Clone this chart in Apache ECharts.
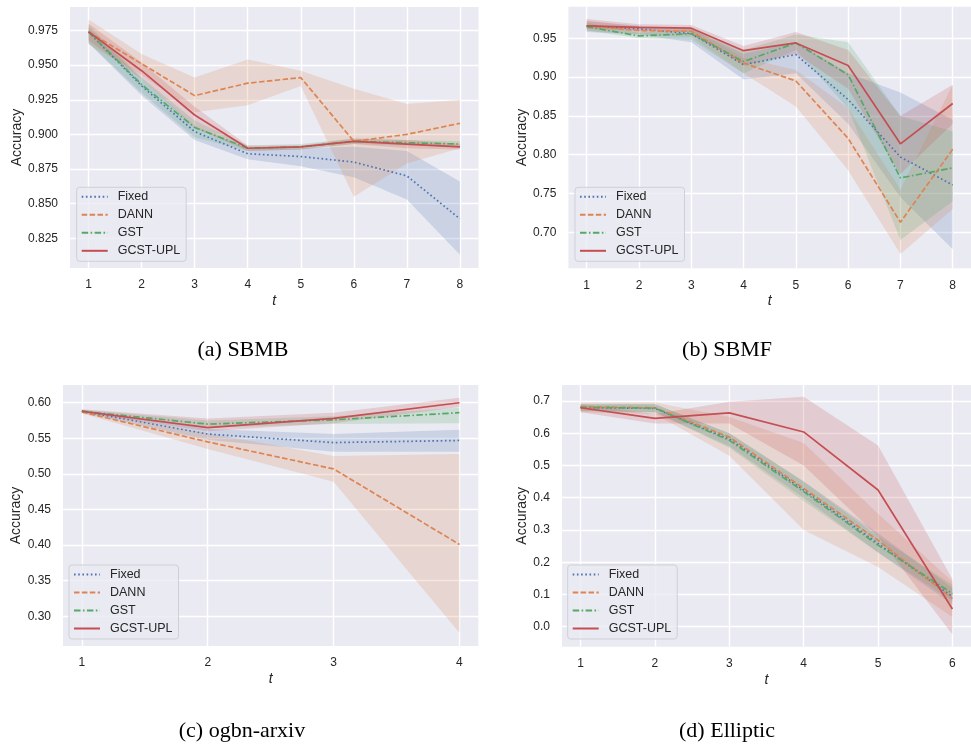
<!DOCTYPE html>
<html>
<head>
<meta charset="utf-8">
<script src="https://cdn.jsdelivr.net/npm/echarts@6/dist/echarts.min.js"></script>
<style>
  html, body { margin: 0; padding: 0; background: #fff; }
  #main { width: 971px; height: 745px; }
</style>
</head>
<body>
<div id="main"></div>
<script>
// ---- data ----
var methods = ['Fixed', 'DANN', 'GST', 'GCST-UPL'];

// (a) SBMB
var sbmbT = [1, 2, 3, 4, 5, 6, 7, 8];
var sbmbFixed   = [0.974, 0.935, 0.902, 0.886, 0.884, 0.880, 0.870, 0.839];
var sbmbFixedLo = [0.966, 0.928, 0.896, 0.882, 0.877, 0.869, 0.853, 0.813];
var sbmbFixedHi = [0.977, 0.940, 0.906, 0.890, 0.890, 0.891, 0.888, 0.866];
var sbmbDann    = [0.974, 0.951, 0.928, 0.937, 0.941, 0.895, 0.900, 0.908];
var sbmbDannLo  = [0.965, 0.943, 0.916, 0.921, 0.935, 0.855, 0.879, 0.890];
var sbmbDannHi  = [0.983, 0.958, 0.941, 0.954, 0.946, 0.933, 0.922, 0.925];
var sbmbGst     = [0.974, 0.936, 0.905, 0.890, 0.891, 0.895, 0.894, 0.893];
var sbmbGstLo   = [0.966, 0.930, 0.898, 0.888, 0.889, 0.893, 0.892, 0.891];
var sbmbGstHi   = [0.979, 0.941, 0.910, 0.892, 0.893, 0.897, 0.896, 0.895];
var sbmbGcst    = [0.974, 0.946, 0.914, 0.890, 0.891, 0.895, 0.893, 0.891];
var sbmbGcstLo  = [0.968, 0.940, 0.905, 0.888, 0.889, 0.893, 0.890, 0.889];
var sbmbGcstHi  = [0.980, 0.952, 0.920, 0.892, 0.892, 0.897, 0.896, 0.893];
var sbmbYTicks  = [0.825, 0.850, 0.875, 0.900, 0.925, 0.950, 0.975];

// (b) SBMF
var sbmfT = [1, 2, 3, 4, 5, 6, 7, 8];
var sbmfFixed   = [0.966, 0.962, 0.956, 0.916, 0.929, 0.871, 0.797, 0.761];
var sbmfFixedLo = [0.958, 0.955, 0.945, 0.897, 0.905, 0.840, 0.745, 0.678];
var sbmfFixedHi = [0.972, 0.966, 0.962, 0.930, 0.945, 0.905, 0.880, 0.845];
var sbmfDann    = [0.966, 0.960, 0.959, 0.918, 0.895, 0.821, 0.713, 0.807];
var sbmfDannLo  = [0.960, 0.955, 0.952, 0.905, 0.862, 0.780, 0.672, 0.730];
var sbmfDannHi  = [0.973, 0.965, 0.963, 0.925, 0.909, 0.860, 0.755, 0.890];
var sbmfGst     = [0.965, 0.953, 0.956, 0.920, 0.944, 0.903, 0.770, 0.783];
var sbmfGstLo   = [0.960, 0.950, 0.948, 0.905, 0.935, 0.860, 0.690, 0.740];
var sbmfGstHi   = [0.970, 0.957, 0.962, 0.935, 0.955, 0.945, 0.850, 0.830];
var sbmfGcst    = [0.966, 0.964, 0.963, 0.934, 0.944, 0.915, 0.814, 0.866];
var sbmfGcstLo  = [0.962, 0.960, 0.958, 0.915, 0.930, 0.885, 0.775, 0.840];
var sbmfGcstHi  = [0.975, 0.968, 0.967, 0.940, 0.958, 0.935, 0.850, 0.890];
var sbmfYTicks  = [0.70, 0.75, 0.80, 0.85, 0.90, 0.95];

// (c) ogbn-arxiv
var arxivT = [1, 2, 3, 4];
var arxivFixed   = [0.588, 0.556, 0.544, 0.547];
var arxivFixedLo = [0.586, 0.548, 0.531, 0.531];
var arxivFixedHi = [0.590, 0.563, 0.556, 0.562];
var arxivDann    = [0.587, 0.545, 0.507, 0.401];
var arxivDannLo  = [0.585, 0.535, 0.489, 0.277];
var arxivDannHi  = [0.590, 0.557, 0.525, 0.528];
var arxivGst     = [0.588, 0.570, 0.576, 0.586];
var arxivGstLo   = [0.586, 0.565, 0.570, 0.571];
var arxivGstHi   = [0.590, 0.575, 0.581, 0.593];
var arxivGcst    = [0.588, 0.565, 0.578, 0.600];
var arxivGcstLo  = [0.586, 0.560, 0.571, 0.594];
var arxivGcstHi  = [0.591, 0.578, 0.586, 0.607];
var arxivYTicks  = [0.30, 0.35, 0.40, 0.45, 0.50, 0.55, 0.60];

// (d) Elliptic
var ellT = [1, 2, 3, 4, 5, 6];
var ellFixed   = [0.680, 0.677, 0.582, 0.424, 0.258, 0.093];
var ellFixedLo = [0.670, 0.665, 0.560, 0.400, 0.230, 0.070];
var ellFixedHi = [0.690, 0.690, 0.600, 0.450, 0.290, 0.120];
var ellDann    = [0.682, 0.679, 0.588, 0.429, 0.268, 0.087];
var ellDannLo  = [0.665, 0.660, 0.530, 0.300, 0.185, 0.030];
var ellDannHi  = [0.695, 0.695, 0.650, 0.570, 0.350, 0.140];
var ellGst     = [0.680, 0.678, 0.578, 0.419, 0.253, 0.103];
var ellGstLo   = [0.670, 0.665, 0.555, 0.390, 0.230, 0.080];
var ellGstHi   = [0.690, 0.690, 0.600, 0.450, 0.280, 0.130];
var ellGcst    = [0.679, 0.646, 0.663, 0.604, 0.424, 0.055];
var ellGcstLo  = [0.665, 0.630, 0.630, 0.500, 0.280, -0.024];
var ellGcstHi  = [0.690, 0.660, 0.698, 0.713, 0.562, 0.147];
var ellYTicks  = [0.0, 0.1, 0.2, 0.3, 0.4, 0.5, 0.6, 0.7];

// ---- styling ----
var colors = ['#4C72B0', '#DD8452', '#55A868', '#C44E52'];
var dashes = [[1.6, 2.6], [5.5, 2.4], [6.5, 2.4, 1.6, 2.4], 'solid'];
var sansFont = 'Liberation Sans, Arial, sans-serif';

var panels = [
  { t: sbmbT, lines: [sbmbFixed, sbmbDann, sbmbGst, sbmbGcst],
    lo: [sbmbFixedLo, sbmbDannLo, sbmbGstLo, sbmbGcstLo],
    hi: [sbmbFixedHi, sbmbDannHi, sbmbGstHi, sbmbGcstHi],
    yTicks: sbmbYTicks, dec: 3, caption: '(a) SBMB',
    grid: { left: 70, top: 7, width: 408.5, height: 261 },
    xMin: 0.65, xMax: 8.35, yMin: 0.8035, yMax: 0.992, nameGap: 46,
    legend: [76.7, 187.3], capPos: [243, 350] },
  { t: sbmfT, lines: [sbmfFixed, sbmfDann, sbmfGst, sbmfGcst],
    lo: [sbmfFixedLo, sbmfDannLo, sbmfGstLo, sbmfGcstLo],
    hi: [sbmfFixedHi, sbmfDannHi, sbmfGstHi, sbmfGcstHi],
    yTicks: sbmfYTicks, dec: 2, caption: '(b) SBMF',
    grid: { left: 568.4, top: 6.7, width: 415.8, height: 261.6 },
    xMin: 0.65, xMax: 8.35, yMin: 0.6536, yMax: 0.9907, nameGap: 39,
    legend: [575, 187.3], capPos: [727, 350] },
  { t: arxivT, lines: [arxivFixed, arxivDann, arxivGst, arxivGcst],
    lo: [arxivFixedLo, arxivDannLo, arxivGstLo, arxivGcstLo],
    hi: [arxivFixedHi, arxivDannHi, arxivGstHi, arxivGcstHi],
    yTicks: arxivYTicks, dec: 2, caption: '(c) ogbn-arxiv',
    grid: { left: 63, top: 385, width: 415.3, height: 261 },
    xMin: 0.85, xMax: 4.15, yMin: 0.2583, yMax: 0.6249, nameGap: 40,
    legend: [69, 565], capPos: [242, 731] },
  { t: ellT, lines: [ellFixed, ellDann, ellGst, ellGcst],
    lo: [ellFixedLo, ellDannLo, ellGstLo, ellGcstLo],
    hi: [ellFixedHi, ellDannHi, ellGstHi, ellGcstHi],
    yTicks: ellYTicks, dec: 1, caption: '(d) Elliptic',
    grid: { left: 562, top: 385, width: 423, height: 261.7 },
    xMin: 0.75, xMax: 6.25, yMin: -0.062, yMax: 0.7496, nameGap: 33,
    legend: [567.7, 565], capPos: [727, 731] }
];

function rgba(hex, a) {
  var n = parseInt(hex.slice(1), 16);
  return 'rgba(' + (n >> 16) + ',' + ((n >> 8) & 255) + ',' + (n & 255) + ',' + a + ')';
}

function bandSeries(idx, xs, lo, hi, color) {
  return {
    type: 'custom',
    xAxisIndex: idx,
    yAxisIndex: idx,
    silent: true,
    clip: true,
    z: 1,
    data: xs.map(function (x, i) { return [x, lo[i], hi[i]]; }),
    encode: { x: 0, y: [1, 2] },
    renderItem: function (params, api) {
      if (params.dataIndex !== 0) return;
      var pts = [];
      for (var i = 0; i < xs.length; i++) pts.push(api.coord([xs[i], hi[i]]));
      for (var j = xs.length - 1; j >= 0; j--) pts.push(api.coord([xs[j], lo[j]]));
      return { type: 'polygon', shape: { points: pts }, style: { fill: rgba(color, 0.2) } };
    }
  };
}

var grids = [], xAxes = [], yAxes = [], series = [], legends = [], graphics = [];

panels.forEach(function (p, k) {
  grids.push({
    left: p.grid.left, top: p.grid.top, width: p.grid.width, height: p.grid.height,
    show: true, backgroundColor: '#EAEAF2', borderWidth: 0
  });
  xAxes.push({
    type: 'value', gridIndex: k, min: p.xMin, max: p.xMax,
    name: 't', nameLocation: 'middle', nameGap: 26,
    nameTextStyle: { fontFamily: sansFont, fontStyle: 'italic', fontSize: 14, color: '#262626' },
    axisLine: { show: false },
    axisTick: { show: false, customValues: p.t },
    axisLabel: { customValues: p.t, fontFamily: sansFont, fontSize: 12, color: '#262626', margin: 11 },
    splitLine: { show: true, lineStyle: { color: '#ffffff', width: 1.4 } }
  });
  yAxes.push({
    type: 'value', gridIndex: k, min: p.yMin, max: p.yMax,
    name: 'Accuracy', nameLocation: 'middle', nameGap: p.nameGap,
    nameTextStyle: { fontFamily: sansFont, fontSize: 14, color: '#262626' },
    axisLine: { show: false },
    axisTick: { show: false, customValues: p.yTicks },
    axisLabel: {
      customValues: p.yTicks, fontFamily: sansFont, fontSize: 12, color: '#262626', margin: 12,
      formatter: (function (d) { return function (v) { return v.toFixed(d); }; })(p.dec)
    },
    splitLine: { show: true, lineStyle: { color: '#ffffff', width: 1.4 } }
  });
  for (var m = 0; m < 4; m++) {
    series.push(bandSeries(k, p.t, p.lo[m], p.hi[m], colors[m]));
  }
  for (var m2 = 0; m2 < 4; m2++) {
    series.push({
      name: methods[m2], type: 'line', xAxisIndex: k, yAxisIndex: k,
      symbol: 'none', z: 3, silent: true,
      data: p.t.map(function (x, i) { return [x, p.lines[m2][i]]; }),
      lineStyle: { color: colors[m2], width: 1.7, type: dashes[m2] },
      itemStyle: { color: colors[m2] }
    });
  }
  legends.push({
    data: methods, orient: 'vertical', left: p.legend[0], top: p.legend[1],
    itemWidth: 26, itemHeight: 12, itemGap: 5, padding: [3, 6, 4, 4],
    backgroundColor: 'rgba(234,234,242,0.8)', borderColor: '#cfcfd6', borderWidth: 1, borderRadius: 3,
    selectedMode: false,
    itemStyle: { opacity: 0 },
    textStyle: { fontFamily: sansFont, fontSize: 12.5, color: '#262626', padding: [0, 0, 0, 5] }
  });
  graphics.push({
    type: 'text', x: p.capPos[0], y: p.capPos[1],
    style: { text: p.caption, font: '22px "Liberation Serif", "Times New Roman", serif',
      fill: '#000', textAlign: 'center', textVerticalAlign: 'middle' }
  });
});

var chart = echarts.init(document.getElementById('main'));
chart.setOption({
  animation: false,
  backgroundColor: '#ffffff',
  grid: grids,
  xAxis: xAxes,
  yAxis: yAxes,
  legend: legends,
  series: series,
  graphic: graphics
});
</script>
</body>
</html>
